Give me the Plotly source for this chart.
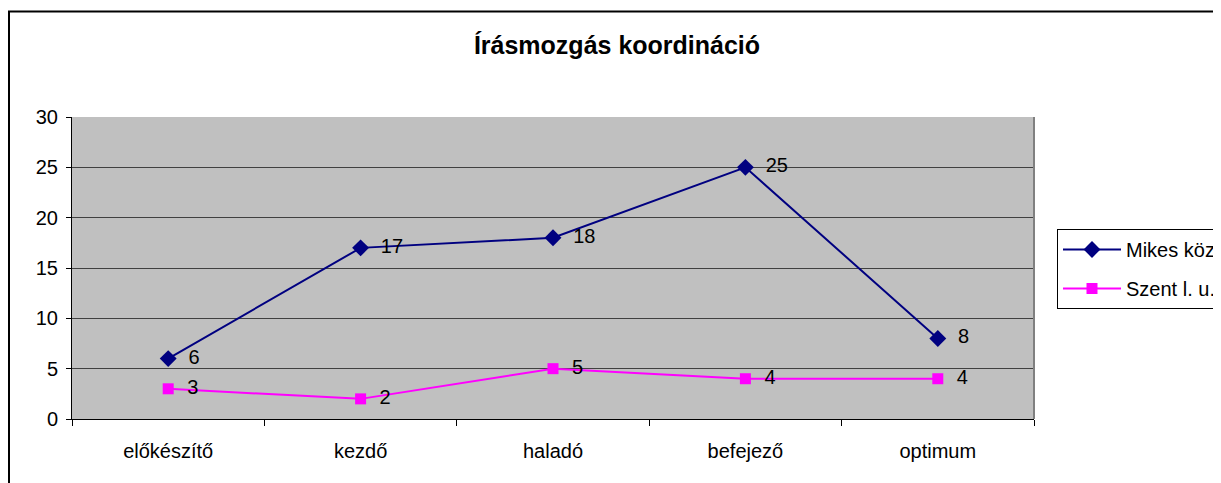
import plotly.graph_objects as go

categories = ["előkészítő", "kezdő", "haladó", "befejező", "optimum"]
mikes_koz = [6, 17, 18, 25, 8]
szent_l_u = [3, 2, 5, 4, 4]
series_names = ["Mikes köz", "Szent l. u."]
title_text = "Írásmozgás koordináció"

# page body has an 8px margin; work in reference-pixel coords and shift
OFF = 8
W, H = 1221 - OFF, 483 - OFF
L, R, T, B = 72 - OFF, 1034 - OFF, 117 - OFF, 419 - OFF
pw, ph = R - L, B - T

def px(x):
    return (x - OFF - L) / pw

def py(y):
    return (B - (y - OFF)) / ph

FONT = "Arial, Liberation Sans, sans-serif"

fig = go.Figure()
fig.add_trace(go.Scatter(
    x=categories, y=mikes_koz, name=series_names[0], legendgroup="a",
    mode="lines+markers+text", text=[f"  {v}" for v in mikes_koz],
    textposition="middle right", textfont=dict(size=20, color="black", family=FONT),
    line=dict(color="#000080", width=2),
    marker=dict(symbol="diamond", size=13, color="#000080"),
    cliponaxis=False,
))
fig.add_trace(go.Scatter(
    x=categories, y=szent_l_u, name=series_names[1], legendgroup="b",
    mode="lines+markers+text", text=[f"  {v}" for v in szent_l_u],
    textposition="middle right", textfont=dict(size=20, color="black", family=FONT),
    line=dict(color="#FF00FF", width=2),
    marker=dict(symbol="square", size=11, color="#FF00FF"),
    cliponaxis=False,
))

fig.update_layout(
    width=W, height=H,
    margin=dict(l=L, r=W - R, t=T, b=H - B, autoexpand=False),
    paper_bgcolor="white", plot_bgcolor="#C0C0C0",
    font=dict(family=FONT, size=20, color="black"),
    title=dict(text=f"<b>{title_text}</b>", x=(617 - OFF) / W, xanchor="center",
               y=1 - (45 - OFF) / H, yanchor="middle", font=dict(size=25, family=FONT, color="black")),
    showlegend=True,
    legend=dict(x=px(1057), y=py(229), xanchor="left", yanchor="top",
                bordercolor="black", borderwidth=1, bgcolor="white",
                font=dict(size=20, family=FONT, color="black"),
                tracegroupgap=10, itemwidth=58),
    xaxis=dict(type="category", tickson="boundaries", ticks="outside", ticklen=6,
               tickcolor="black", showline=True, linecolor="black", linewidth=1,
               showgrid=False, ticklabelstandoff=14, range=[-0.5, 4.5],
               tickfont=dict(size=20, family=FONT)),
    yaxis=dict(range=[0, 30], dtick=5, ticks="outside", ticklen=5, tickcolor="black",
               showline=True, linecolor="black", linewidth=1,
               showgrid=True, gridcolor="#404040", gridwidth=1, zeroline=False,
               ticklabelstandoff=4, tickfont=dict(size=20, family=FONT)),
    shapes=[
        dict(type="rect", xref="paper", yref="paper", x0=px(9), x1=px(1240),
             y0=py(500), y1=py(11.5), line=dict(color="black", width=2), layer="below"),
        dict(type="line", xref="paper", yref="paper", x0=1, x1=1, y0=0, y1=1,
             line=dict(color="#808080", width=2)),
    ],
)

fig.write_html("out.html")
